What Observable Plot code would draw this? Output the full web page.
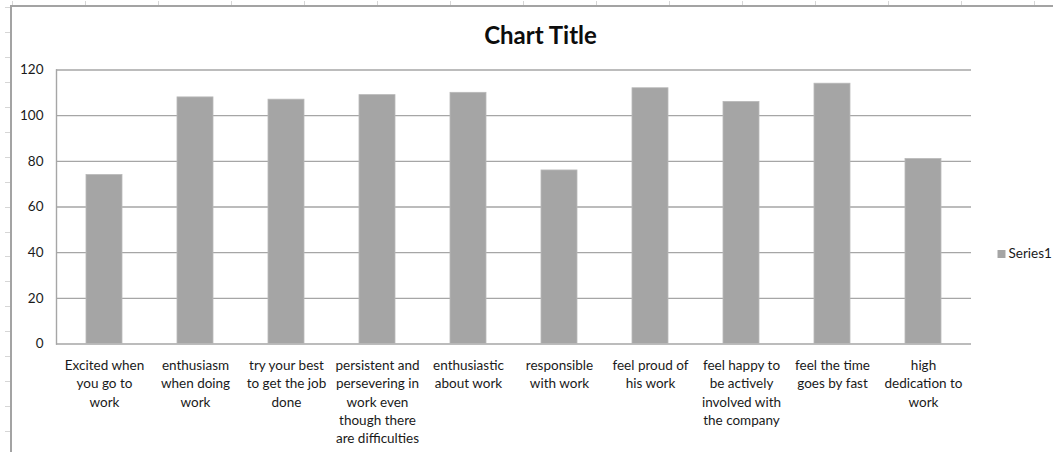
<!DOCTYPE html>
<html>
<head>
<meta charset="utf-8">
<script src="https://cdn.jsdelivr.net/npm/d3@7"></script>
<script src="https://cdn.jsdelivr.net/npm/@observablehq/plot@0.6"></script>
<style>
  html, body { margin: 0; padding: 0; background: #fff; }
  #sheet { position: relative; width: 1053px; height: 452px; overflow: hidden; background: #fff; }
  #sheet svg { position: absolute; left: 0; top: 0; }
  .edge { position: absolute; background: #a3a3a3; }
  .tick { position: absolute; background: #d6d6d6; }
</style>
</head>
<body>
<div id="sheet"></div>
<script>
// Survey items and their scores
const categories = [
  "Excited when you go to work",
  "enthusiasm when doing work",
  "try your best to get the job done",
  "persistent and persevering in work even though there are difficulties",
  "enthusiastic about work",
  "responsible with work",
  "feel proud of his work",
  "feel happy to be actively involved with the company",
  "feel the time goes by fast",
  "high dedication to work"
];
const values = [74, 108, 107, 109, 110, 76, 112, 106, 114, 81];

// Wrapped category labels as shown under each bar
const tickLabels = [
  "Excited when\nyou go to\nwork",
  "enthusiasm\nwhen doing\nwork",
  "try your best\nto get the job\ndone",
  "persistent and\npersevering in\nwork even\nthough there\nare difficulties",
  "enthusiastic\nabout work",
  "responsible\nwith work",
  "feel proud of\nhis work",
  "feel happy to\nbe actively\ninvolved with\nthe company",
  "feel the time\ngoes by fast",
  "high\ndedication to\nwork"
];
const yTicks = [0, 20, 40, 60, 80, 100, 120];
const seriesName = "Series1";
const chartTitle = "Chart Title";

const data = categories.map((c, i) => ({category: c, value: values[i]}));
const labelOf = new Map(categories.map((c, i) => [c, tickLabels[i]]));

const font = "Lato, 'Open Sans', sans-serif";
const barColor = "#a5a5a5";
const lineColor = "#a6a6a6";

const chart = Plot.plot({
  width: 1053,
  height: 452,
  marginLeft: 56,
  marginRight: 82,
  marginTop: 69.5,
  marginBottom: 108.5,
  style: {fontFamily: font, fontSize: "13.5px", color: "#1a1a1a", background: "transparent", overflow: "visible"},
  x: {domain: categories, paddingInner: 0.6, paddingOuter: 0.3, axis: null},
  y: {domain: [0, 120], axis: null},
  marks: [
    Plot.gridY(yTicks, {stroke: lineColor, strokeOpacity: 1, strokeWidth: 1.4}),
    Plot.frame({anchor: "left", stroke: lineColor, strokeWidth: 1.4}),
    Plot.barY(data, {x: "category", y: "value", fill: barColor, stroke: "#b8b8b8", strokeWidth: 0.8}),
    Plot.axisY(yTicks, {tickSize: 0, tickPadding: 13, label: null, fontSize: 13.5}),
    Plot.axisX({tickSize: 0, tickPadding: 13, label: null, fontSize: 13.5, lineHeight: 1.355,
      tickFormat: d => labelOf.get(d)}),
    Plot.text([chartTitle], {frameAnchor: "top", dx: 26.5, dy: -26.5, lineAnchor: "bottom",
      text: d => d, fontWeight: "bold", fontSize: 24, fill: "#0d0d0d"}),
    Plot.dot([seriesName], {frameAnchor: "right", dx: 30, dy: 47, symbol: "square", r: 4.5,
      fill: barColor, stroke: null}),
    Plot.text([seriesName], {frameAnchor: "right", dx: 37, dy: 47, textAnchor: "start",
      text: d => d, fontSize: 13.5, fill: "#1a1a1a"})
  ]
});

const sheet = document.getElementById("sheet");
sheet.appendChild(chart);

// Worksheet edges around the embedded chart
function box(cls, left, top, w, h) {
  const el = document.createElement("div");
  el.className = cls;
  Object.assign(el.style, {left: left + "px", top: top + "px", width: w + "px", height: h + "px"});
  sheet.appendChild(el);
}
for (let x = 12; x < 1053; x += 73) box("tick", x, 1, 1, 5);
for (let y = 7.4; y < 452; y += 24.9) box("tick", 5, Math.round(y), 5, 1);
box("edge", 11, 5, 1042, 2);
box("edge", 10, 5, 2, 447);
</script>
</body>
</html>
